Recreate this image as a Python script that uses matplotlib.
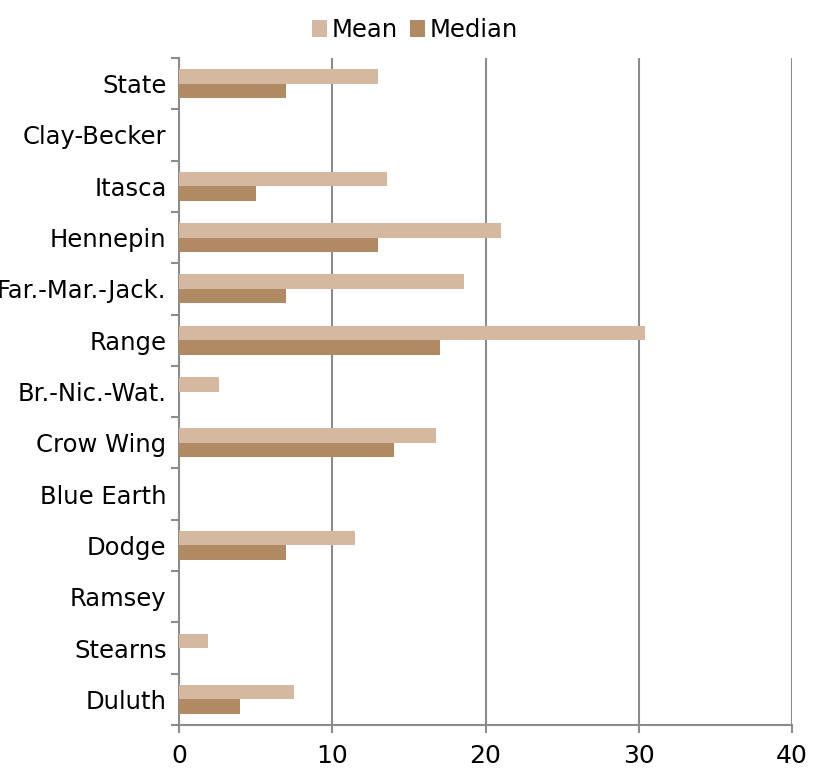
import numpy as np
import matplotlib.pyplot as plt

categories = ['State', 'Clay-Becker', 'Itasca', 'Hennepin', 'Far.-Mar.-Jack.',
              'Range', 'Br.-Nic.-Wat.', 'Crow Wing', 'Blue Earth', 'Dodge',
              'Ramsey', 'Stearns', 'Duluth']
mean_vals = [13.0, 0, 13.6, 21.0, 18.6, 30.4, 2.6, 16.8, 0, 11.5, 0, 1.9, 7.5]
median_vals = [7.0, 0, 5.0, 13.0, 7.0, 17.0, 0, 14.0, 0, 7.0, 0, 0, 4.0]

mean_color = '#D4B8A0'
median_color = '#B08A62'
grid_color = '#8C8C8C'

fig = plt.figure(figsize=(8.3, 7.73), dpi=100)
ax = fig.add_axes([179/830, 48/773, 613/830, 667/773])

y = np.arange(len(categories))
h = 0.283
ax.barh(y - h/2, mean_vals, height=h, color=mean_color, label='Mean', zorder=3)
ax.barh(y + h/2, median_vals, height=h, color=median_color, label='Median', zorder=3)

ax.set_xlim(0, 40)
ax.set_ylim(len(categories) - 0.5, -0.5)
ax.set_xticks([0, 10, 20, 30, 40])
ax.xaxis.grid(True, color=grid_color, linewidth=1.5, zorder=0)

# category labels between boundary ticks
ax.set_yticks(np.arange(len(categories) + 1) - 0.5)
ax.set_yticklabels([])
ax.set_yticks(y, minor=True)
ax.set_yticklabels(categories, minor=True, fontsize=17.5)
ax.tick_params(axis='y', which='minor', length=0, pad=9)
ax.tick_params(axis='y', which='major', length=6, width=1.5, color=grid_color)
ax.tick_params(axis='x', length=6, width=1.5, color=grid_color, labelsize=18, pad=8)

for s in ['top', 'right']:
    ax.spines[s].set_visible(False)
for s in ['left', 'bottom']:
    ax.spines[s].set_color(grid_color)
    ax.spines[s].set_linewidth(1.5)

ax.legend(loc='lower center', bbox_to_anchor=(0.385, 1.0), ncol=2, frameon=False,
          fontsize=17.5, handlelength=0.6, handleheight=0.7, handletextpad=0.2,
          columnspacing=0.5, borderaxespad=0.25)

fig.savefig('out.png', dpi=100)
